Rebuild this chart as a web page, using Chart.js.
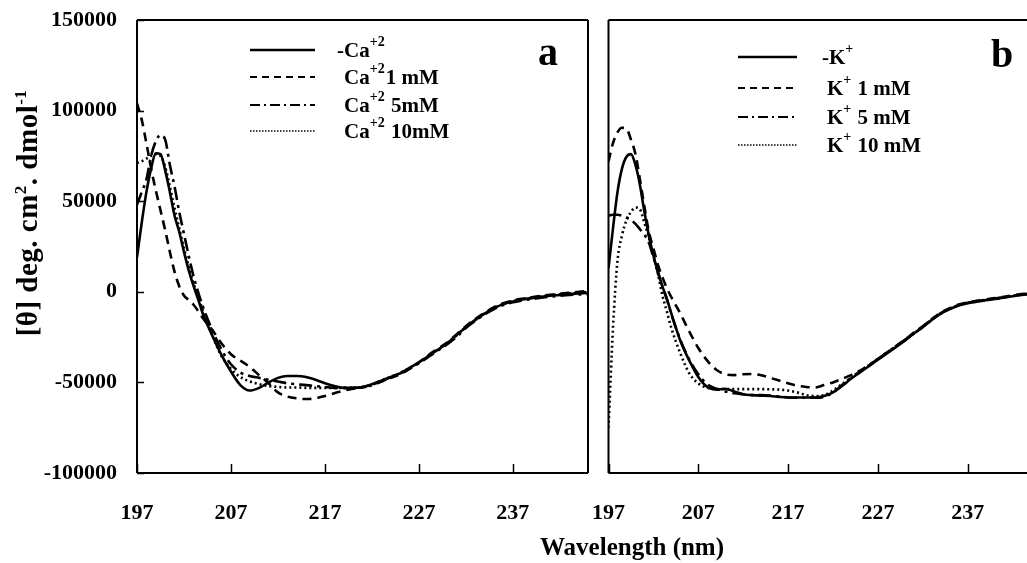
<!DOCTYPE html>
<html>
<head>
<meta charset="utf-8">
<title>CD spectra - Ca / K</title>
<script src="https://cdn.jsdelivr.net/npm/chart.js@4.4.0/dist/chart.umd.min.js"></script>
<style>
    html, body { margin: 0; padding: 0; background: #fff; }
    #wrap {
        position: relative; width: 1027px; height: 563px; overflow: hidden;
        font-family: 'Liberation Serif', 'Times New Roman', serif; font-weight: bold; color: #000;
    }
    #chart-a { position: absolute; left: 0; top: 0; }
    #chart-b { position: absolute; left: 590px; top: 0; }
    .y-title {
        position: absolute; left: -123px; top: 196px; width: 300px; height: 34px;
        text-align: center; font-size: 29px; line-height: 34px; letter-spacing: 0.5px;
        transform: rotate(-90deg); white-space: nowrap;
    }
    .x-title {
        position: absolute; left: 432px; top: 533px; width: 400px;
        text-align: center; font-size: 25px; line-height: 28px; white-space: nowrap;
    }
    sup { font-size: 17px; line-height: 0; }
</style>
</head>
<body>
<div id="wrap">
    <canvas id="chart-a" width="600" height="563"></canvas>
    <canvas id="chart-b" width="437" height="563"></canvas>
    <div class="y-title">[θ] deg. cm<sup>2</sup>. dmol<sup>-1</sup></div>
    <div class="x-title">Wavelength (nm)</div>
</div>
<script>
/* ---------- data ---------- */
const wavelengths = [197, 197.5, 198, 198.5, 199, 199.5, 200, 200.5, 201, 201.5, 202, 202.5, 203, 203.5, 204,
    205, 206, 207, 208, 209, 210, 211, 212, 213, 214, 215, 216, 217, 218, 219, 220, 221, 222, 223, 224, 225,
    226, 227, 228, 229, 230, 231, 232, 233, 234, 235, 236, 237, 238, 239, 240, 241, 242, 243, 244, 245];

const xTicks = [197, 207, 217, 227, 237];
const yTicks = [-100000, -50000, 0, 50000, 100000, 150000];

// panel a : Ca+2
const caLabels = [['-Ca', '+2'], ['Ca', '+2', '1 mM'], ['Ca', '+2', ' 5mM'], ['Ca', '+2', ' 10mM']];
const caNone = [19000, 38000, 55000, 68000, 76500, 76000, 67000, 55000, 42000, 33000, 22000, 12000, 3500, -4000, -12000,
    -24000, -35000, -44000, -51500, -54500, -53000, -50000, -47500, -46500, -46500, -47000, -48500, -50500, -52000, -53000, -53000, -52500, -51000, -49000, -47000, -45000,
    -42000, -39000, -35500, -32000, -28500, -24000, -19500, -15500, -12000, -9000, -6800, -5300, -4300, -3500, -2800, -2200, -1700, -1200, -900, -600];
const caOne = [104000, 95000, 82000, 68000, 56000, 45000, 34000, 22000, 11000, 3000, -2000, -4500, -7000, -10500, -14500,
    -21000, -28500, -34500, -38000, -41500, -46000, -50500, -55500, -57800, -58800, -59200, -58800, -57500, -56000, -54500, -53500, -52800, -51000, -49500, -47500, -45500,
    -42500, -39000, -35000, -31500, -28000, -23500, -19000, -15000, -11500, -8500, -6300, -4800, -3800, -3000, -2300, -1600, -1000, -500, 0, 500];
const caFive = [48000, 55000, 62000, 75000, 83000, 86500, 84000, 70000, 58000, 44000, 32000, 20000, 9000, 0, -8000,
    -21000, -32000, -40000, -44500, -46500, -47500, -48500, -49500, -50500, -51000, -51500, -52000, -52500, -53000, -53000, -53000, -52500, -51500, -49500, -47000, -45000,
    -42500, -39500, -36000, -32500, -29000, -25000, -20000, -16000, -12500, -9500, -7300, -5800, -4800, -4000, -3300, -2700, -2200, -1800, -1500, -1300];
const caTen = [71000, 72000, 73500, 75000, 76000, 75000, 69000, 58000, 46000, 35000, 24000, 14000, 5000, -3000, -10000,
    -24000, -35500, -42500, -47000, -49500, -51000, -52000, -52500, -52800, -52800, -53000, -53000, -53000, -53000, -53000, -53000, -52800, -51500, -49000, -47000, -44800,
    -42000, -39000, -35500, -32000, -28500, -24000, -19500, -15500, -12000, -9000, -6700, -5100, -4100, -3300, -2600, -2000, -1400, -900, -500, -200];

// panel b : K+
const kLabels = [['-K', '+'], ['K', '+', ' 1 mM'], ['K', '+', ' 5 mM'], ['K', '+', ' 10 mM']];
const kNone = [13000, 35000, 55000, 68000, 74500, 76000, 70000, 59000, 44000, 31000, 20000, 11000, 3000, -4000, -12000,
    -27000, -38000, -47000, -52500, -54000, -53500, -55000, -56500, -57000, -57300, -57500, -58000, -58300, -58300, -58300, -58300, -57500, -55500, -52000, -48000, -44500,
    -41000, -37500, -34000, -30500, -27000, -23000, -19500, -15500, -12000, -9500, -7500, -6300, -5500, -4700, -4000, -3300, -2500, -1800, -1200, -600];
const kOne = [72000, 82000, 88000, 90500, 90000, 84000, 76000, 62000, 47000, 33000, 24000, 15000, 8000, 2000, -3000,
    -12000, -22000, -31000, -38000, -43000, -45500, -46000, -45500, -45400, -46000, -47500, -49000, -50500, -51800, -52500, -52800, -51500, -50000, -48000, -46000, -43500,
    -40500, -37000, -33500, -30000, -26500, -22500, -19000, -15000, -11500, -9000, -7000, -5800, -5000, -4200, -3500, -2800, -2000, -1300, -700, 0];
const kFive = [42000, 42500, 42500, 42000, 41000, 39500, 37500, 34500, 31500, 27000, 19000, 11000, 3000, -4000, -12500,
    -26500, -37500, -45500, -51000, -53500, -55000, -56000, -56500, -57000, -57000, -57300, -57800, -58300, -58500, -58500, -58500, -58000, -55500, -51500, -47500, -44000,
    -40500, -37000, -33500, -30000, -26500, -22800, -19200, -15200, -11800, -9200, -7300, -6000, -5200, -4400, -3700, -3000, -2200, -1500, -900, -300];
const kTen = [-75000, -20000, 17000, 31000, 39500, 44000, 46500, 45500, 38000, 30000, 20000, 10000, -2000, -11000, -20000,
    -34000, -45000, -50500, -53000, -53700, -53700, -53700, -53700, -53700, -53700, -53800, -54000, -54500, -55500, -57000, -57500, -57000, -54500, -51000, -47500, -44000,
    -40500, -37200, -33800, -30300, -26800, -23000, -19400, -15400, -12000, -9400, -7400, -6200, -5300, -4500, -3800, -3100, -2300, -1600, -1000, -400];

/* ---------- styles ---------- */
const FONT = "'Liberation Serif', 'Times New Roman', serif";
const lineStyles = [
    { borderDash: [], borderWidth: 2.6, legendWidth: 2.6, legendDash: [] },
    { borderDash: [9, 6], borderWidth: 2.6, legendWidth: 2, legendDash: [7, 5] },
    { borderDash: [13, 5, 3, 5], borderWidth: 2.6, legendWidth: 2, legendDash: [10, 4, 2, 4] },
    { borderDash: [2, 3], borderWidth: 2.6, legendWidth: 1.5, legendDash: [1.5, 1.5] }
];

function makeDatasets(labels, series) {
    return series.map((vals, i) => ({
        label: labels[i].join(''),
        data: wavelengths.map((x, j) => ({ x: x, y: vals[j] })),
        borderColor: '#000',
        borderWidth: lineStyles[i].borderWidth,
        borderDash: lineStyles[i].borderDash,
        pointRadius: 0,
        cubicInterpolationMode: 'monotone',
        fill: false
    }));
}

/* ---------- plugins ---------- */
const framePlugin = {
    id: 'frame',
    afterDraw(chart, args, opts) {
        const { ctx, chartArea: a, scales } = chart;
        ctx.save();
        ctx.strokeStyle = '#000';
        ctx.lineWidth = 2;
        ctx.setLineDash([]);
        ctx.beginPath();
        ctx.moveTo(a.left, a.top); ctx.lineTo(a.left, a.bottom);
        ctx.moveTo(a.left, a.bottom); ctx.lineTo(a.right, a.bottom);
        ctx.moveTo(a.left, a.top); ctx.lineTo(a.right, a.top);
        if (opts.right) { ctx.moveTo(a.right, a.top); ctx.lineTo(a.right, a.bottom); }
        ctx.stroke();

        ctx.lineWidth = 1.5;
        ctx.beginPath();
        scales.x.ticks.forEach(t => {
            const px = Math.round(scales.x.getPixelForValue(t.value)) + 0.5;
            ctx.moveTo(px, a.bottom); ctx.lineTo(px, a.bottom - 9);
        });
        if (opts.yTicks) {
            scales.y.ticks.forEach(t => {
                const py = Math.round(scales.y.getPixelForValue(t.value)) + 0.5;
                ctx.moveTo(a.left, py); ctx.lineTo(a.left + 7, py);
            });
        }
        ctx.stroke();
        ctx.restore();
    }
};

function drawRich(ctx, parts, x, y) {
    let cx = x;
    parts.forEach((p, i) => {
        const sup = i % 2 === 1;
        ctx.font = sup ? `bold 14px ${FONT}` : `bold 21px ${FONT}`;
        ctx.fillText(p, cx, sup ? y - 4 : y + 7);
        cx += ctx.measureText(p).width + (sup ? 1 : 0);
    });
}

const legendPlugin = {
    id: 'inlineLegend',
    afterDraw(chart, args, opts) {
        const { ctx } = chart;
        ctx.save();
        ctx.strokeStyle = '#000';
        ctx.fillStyle = '#000';
        ctx.textBaseline = 'alphabetic';
        ctx.textAlign = 'left';
        opts.labels.forEach((parts, i) => {
            const y = opts.rows[i];
            ctx.lineWidth = lineStyles[i].legendWidth;
            ctx.setLineDash(lineStyles[i].legendDash);
            ctx.beginPath();
            ctx.moveTo(opts.x0, y); ctx.lineTo(opts.x1, y);
            ctx.stroke();
            drawRich(ctx, parts, opts.textX[i], y);
        });
        ctx.font = `bold 40px ${FONT}`;
        ctx.textAlign = 'center';
        ctx.fillText(opts.letter, opts.letterX, opts.letterY);
        ctx.restore();
    }
};

// drop the label overhang padding so the plot box sits exactly on layout.padding
function noOverhang(s) {
    s.paddingTop = 0; s.paddingBottom = 0; s.paddingLeft = 0; s.paddingRight = 0;
}

/* ---------- charts ---------- */
function buildChart(canvasId, labels, series, cfg) {
    return new Chart(document.getElementById(canvasId), {
        type: 'line',
        data: { datasets: makeDatasets(labels, series) },
        options: {
            responsive: false,
            animation: false,
            layout: { padding: cfg.padding },
            plugins: {
                legend: { display: false },
                tooltip: { enabled: false },
                frame: cfg.frame,
                inlineLegend: cfg.legend
            },
            scales: {
                x: {
                    type: 'linear',
                    min: 197,
                    max: cfg.xMax,
                    afterBuildTicks: s => { s.ticks = xTicks.map(v => ({ value: v })); },
                    afterFit: s => { s.height = 90; noOverhang(s); },
                    grid: { display: false, drawTicks: false },
                    border: { display: false },
                    ticks: { color: '#000', padding: 27, maxRotation: 0, font: { family: FONT, size: 22, weight: 'bold' } }
                },
                y: {
                    display: cfg.showY,
                    min: -100000,
                    max: 150000,
                    afterBuildTicks: s => { s.ticks = yTicks.map(v => ({ value: v })); },
                    afterFit: s => { s.width = cfg.showY ? 137 : 0; noOverhang(s); },
                    grid: { display: false, drawTicks: false },
                    border: { display: false },
                    ticks: { color: '#000', padding: 20, font: { family: FONT, size: 22, weight: 'bold' }, callback: v => String(v) }
                }
            }
        },
        plugins: [framePlugin, legendPlugin]
    });
}

buildChart('chart-a', caLabels, [caNone, caOne, caFive, caTen], {
    xMax: 245,
    showY: true,
    padding: { top: 20, right: 12, left: 0, bottom: 0 },
    frame: { right: true, yTicks: true },
    legend: {
        labels: caLabels, x0: 250, x1: 315, rows: [50, 77, 105, 131],
        textX: [337, 344, 344, 344], letter: 'a', letterX: 548, letterY: 65
    }
});

buildChart('chart-b', kLabels, [kNone, kOne, kFive, kTen], {
    xMax: 243.6,
    showY: false,
    padding: { top: 20, right: 0, left: 18.5, bottom: 0 },
    frame: { right: false, yTicks: false },
    legend: {
        labels: kLabels, x0: 148, x1: 207, rows: [57, 88, 117, 145],
        textX: [232, 237, 237, 237], letter: 'b', letterX: 412, letterY: 67
    }
});
</script>
</body>
</html>
